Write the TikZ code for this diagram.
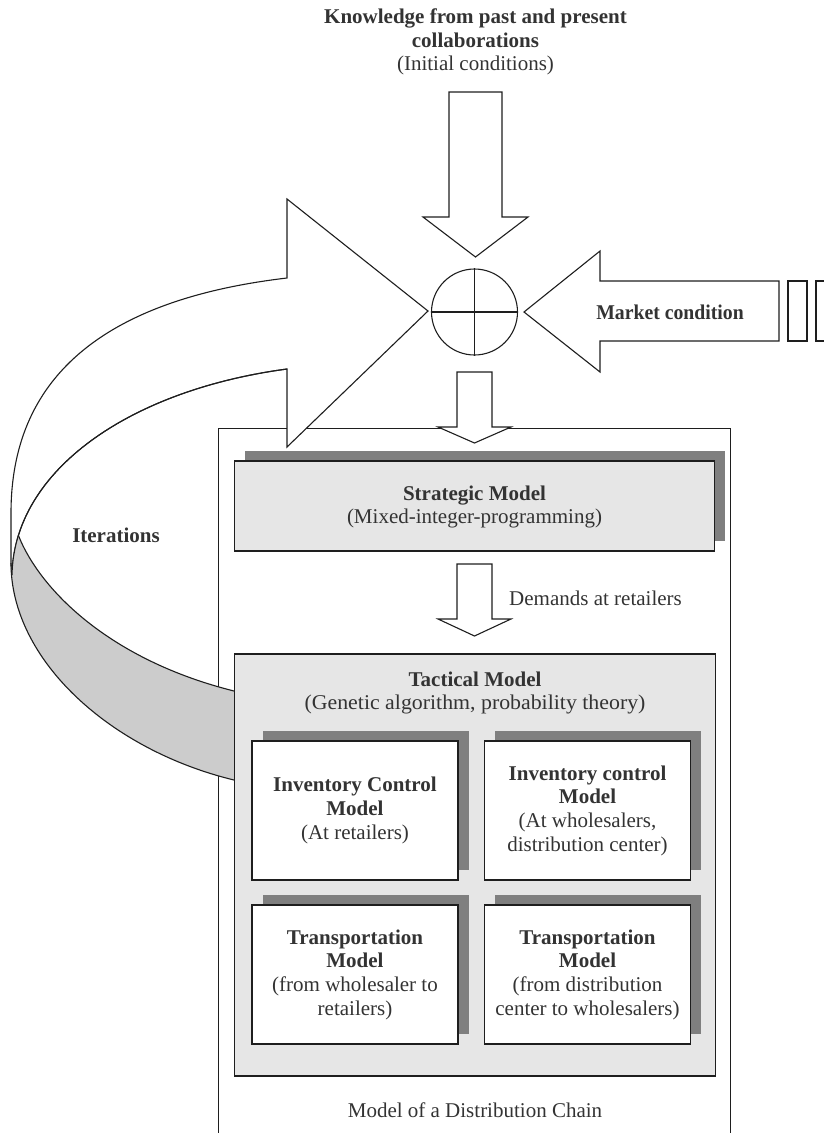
\documentclass[tikz,border=0pt]{standalone}
\usepackage{fontspec}
\setmainfont{Liberation Serif}
\usetikzlibrary{shadows}
\definecolor{ink}{HTML}{1E1E1E}
\definecolor{txtcol}{HTML}{333333}
\definecolor{panel}{HTML}{E6E6E6}
\definecolor{shade}{HTML}{7F7F7F}
\definecolor{bandback}{HTML}{CCCCCC}
\begin{document}
\begin{tikzpicture}[x=1pt,y=-1pt,
  lbl/.style={text=txtcol, font=\fontsize{21}{23.7}\selectfont, align=center, inner sep=0pt},
  outline/.style={draw=ink, line width=1.1pt, line join=miter},
  blockarrow/.style={outline, fill=white},
  frame/.style={draw=ink, line width=1pt, inner sep=0pt},
  panelbox/.style={draw=ink, fill=panel, line width=1.4pt, inner sep=0pt},
  modelbox/.style={draw=ink, fill=white, line width=1.4pt, inner sep=0pt,
    minimum width=206pt, minimum height=139pt,
    drop shadow={fill=shade, opacity=1, shadow xshift=10.5pt, shadow yshift=10pt}},
]
\useasboundingbox (0,0) rectangle (824,1133);
\clip (0,0) rectangle (824,1133);

% heading above the summing junction
\node[lbl] (knowledge) at (475.5,42) {\textbf{Knowledge from past and present}\\\textbf{collaborations}\\(Initial conditions)};

% frame of the distribution chain (open below)
\node[frame, minimum width=512pt, minimum height=740pt] (chain) at (474,798) {};
\node[lbl] (chainlabel) at (475,1110) {Model of a Distribution Chain};

% input from the top
\draw[blockarrow] (449,92) -- (502,92) -- (502,217) -- (528,217) -- (475.5,257) -- (423,217) -- (449,217) -- cycle;

% summing junction
\node[draw=ink, line width=1.1pt, circle, minimum size=86pt, inner sep=0pt] (sum) at (474.5,312) {};
\draw[ink, line width=1.1pt] (sum.north) -- (sum.south) (sum.west) -- (sum.east);

% market condition input
\draw[blockarrow] (524,312) -- (600,251) -- (600,281) -- (779,281) -- (779,341) -- (600,341) -- (600,372) -- cycle;
\node[lbl] (market) at (670,312) {\scalebox{0.94}[1]{\textbf{Market condition}}};
\draw[outline] (788,281) rectangle (807,341);
\draw[outline] (816,281) rectangle (845,341);

% output into the chain model
\draw[blockarrow] (457,372) -- (492,372) -- (492,427) -- (511,427) -- (474.5,443) -- (438,427) -- (457,427) -- cycle;

% iteration loop: front face of the ribbon with its arrow head
\draw[blockarrow] (287,278) -- (287,199) -- (428,311) -- (287,447) -- (287,369)
  .. controls (130,390) and (14,470) .. (12,575) -- (11,563) -- (11,513)
  .. controls (11,380) and (100,300) .. (287,278) -- cycle;
% back face of the ribbon
\fill[bandback] (18.4,535.4) .. controls (40,590) and (110,660) .. (234,691) -- (234,780)
  .. controls (110,750) and (11,660) .. (11,563) -- (12,575)
  .. controls (12.26,561.35) and (14.45,548.1) .. (18.4,535.4) -- cycle;
\draw[outline] (18.4,535.4) .. controls (40,590) and (110,660) .. (234,691);
\draw[outline] (11,563) .. controls (11,660) and (110,750) .. (234,780);
\draw[outline] (287,369) .. controls (130,390) and (14,470) .. (12,575);
\node[lbl] (iter) at (116,535) {\textbf{Iterations}};

% strategic level
\node[panelbox, minimum width=480pt, minimum height=90pt,
  drop shadow={fill=shade, opacity=1, shadow xshift=10.5pt, shadow yshift=10pt}] (strategic) at (474.5,506) {};
\node[lbl] (strategiclabel) at (474.5,507) {\textbf{Strategic Model}\\(Mixed-integer-programming)};

% demands passed down
\draw[blockarrow] (457,564) -- (492,564) -- (492,619) -- (511,619) -- (474.5,636) -- (438,619) -- (457,619) -- cycle;
\node[lbl, anchor=west] (demands) at (509,598) {Demands at retailers};

% tactical level
\node[panelbox, minimum width=481pt, minimum height=422pt] (tactical) at (475,865) {};
\node[lbl] (tacticallabel) at (475,693) {\textbf{Tactical Model}\\\scalebox{1.04}[1]{(Genetic algorithm, probability theory)}};

\node[modelbox] (invret) at (355,810.5) {};
\node[lbl] at (invret.center) {\textbf{Inventory Control}\\\textbf{Model}\\(At retailers)};
\node[modelbox] (invwhl) at (587.5,810.5) {};
\node[lbl] at (invwhl.center) {\textbf{Inventory control}\\\textbf{Model}\\(At wholesalers,\\distribution center)};
\node[modelbox] (trret) at (355,974.5) {};
\node[lbl] at (trret.center) {\textbf{Transportation}\\\textbf{Model}\\(from wholesaler to\\retailers)};
\node[modelbox] (trwhl) at (587.5,974.5) {};
\node[lbl] at (trwhl.center) {\textbf{Transportation}\\\textbf{Model}\\(from distribution\\center to wholesalers)};
\end{tikzpicture}
\end{document}
